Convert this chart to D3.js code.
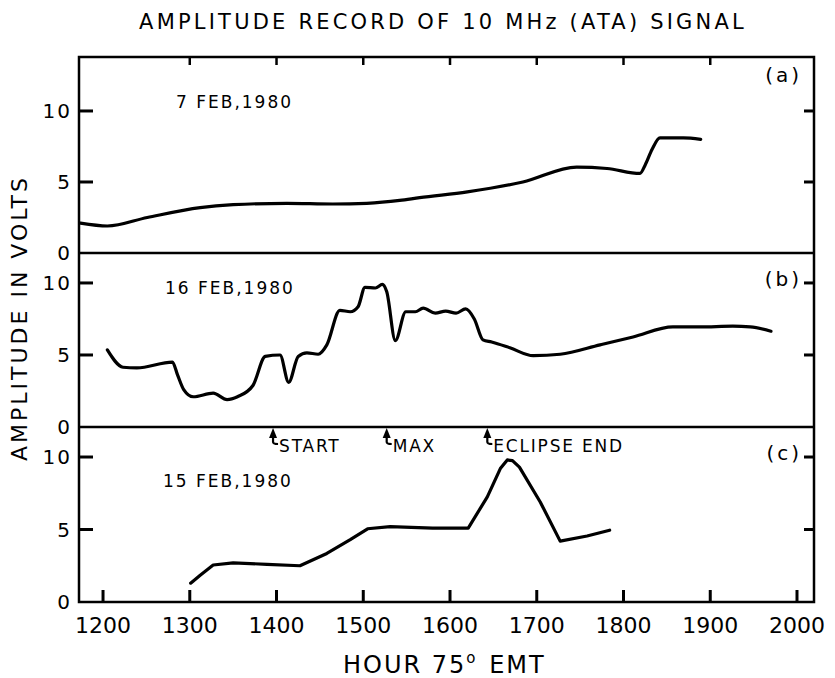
<!DOCTYPE html>
<html><head><meta charset="utf-8">
<script src="https://cdn.jsdelivr.net/npm/d3@7"></script>
<style>
html,body{margin:0;padding:0;background:#fff;}
svg{display:block;}
text{font-family:"DejaVu Sans",sans-serif;fill:#000;}
</style></head>
<body>
<svg id="c" width="835" height="678"></svg>
<script>
// ---- data ----
const title = "AMPLITUDE RECORD OF 10 MHz (ATA) SIGNAL";
const yLabel = "AMPLITUDE IN VOLTS";
const xTickHours = [12, 13, 14, 15, 16, 17, 18, 19, 20];
const xTickLabels = ["1200","1300","1400","1500","1600","1700","1800","1900","2000"];
const topTickHours = [13, 14, 15, 16, 17, 18, 19];
const yTickValues = [0, 5, 10];
const yTickLabels = ["0", "5", "10"];
const panelIds = ["(a)", "(b)", "(c)"];
const panelDates = ["7 FEB,1980", "16 FEB,1980", "15 FEB,1980"];

const febA_hour = [11.74, 12.05, 12.51, 13.12, 13.50, 14.12, 14.65, 15.04, 15.42, 15.65, 16.20, 16.84, 17.46, 17.81, 18.19, 18.25, 18.33, 18.42, 18.69, 18.89];
const febA_volt = [2.1, 1.9, 2.5, 3.2, 3.4, 3.5, 3.45, 3.5, 3.7, 3.9, 4.3, 5.0, 6.05, 5.95, 5.6, 6.2, 7.3, 8.1, 8.1, 8.0];

const febB_hour = [12.05, 12.23, 12.39, 12.80, 12.86, 12.93, 13.04, 13.27, 13.43, 13.55, 13.73, 13.87, 14.04, 14.14, 14.25, 14.35, 14.48, 14.58, 14.73, 14.85, 14.94, 15.02, 15.14, 15.22, 15.27, 15.37, 15.49, 15.60, 15.69, 15.83, 15.95, 16.07, 16.18, 16.28, 16.38, 16.48, 16.69, 16.96, 17.27, 17.73, 18.11, 18.57, 18.88, 19.26, 19.46, 19.70];
const febB_volt = [5.35, 4.15, 4.1, 4.5, 3.6, 2.6, 2.1, 2.35, 1.9, 2.1, 2.9, 4.9, 5.0, 3.1, 4.9, 5.15, 5.05, 5.7, 8.1, 8.0, 8.35, 9.7, 9.65, 9.9, 9.4, 6.0, 8.0, 8.0, 8.25, 7.9, 8.05, 7.9, 8.2, 7.5, 6.05, 5.9, 5.5, 4.95, 5.05, 5.7, 6.25, 6.95, 6.95, 7.0, 6.95, 6.65];

const febC_hour = [13.01, 13.12, 13.27, 13.50, 13.89, 14.27, 14.58, 14.85, 15.05, 15.31, 15.80, 16.21, 16.43, 16.58, 16.66, 16.72, 16.80, 17.04, 17.27, 17.58, 17.84];
const febC_volt = [1.3, 1.85, 2.55, 2.7, 2.6, 2.5, 3.35, 4.3, 5.05, 5.2, 5.1, 5.1, 7.25, 9.2, 9.8, 9.75, 9.3, 6.9, 4.2, 4.55, 4.95];

const eventHours = [13.96, 15.27, 16.43];
const eventLabels = ["START", "MAX", "ECLIPSE END"];

// ---- layout ----
const svg = d3.select("#c");
const x = d3.scaleLinear().domain([11.723, 20.196]).range([79, 814]);
const panels = [
  {hours: febA_hour, volts: febA_volt, curve: d3.curveMonotoneX, y: d3.scaleLinear().domain([0, 13.8]).range([253, 57])},
  {hours: febB_hour, volts: febB_volt, curve: d3.curveMonotoneX, y: d3.scaleLinear().domain([0, 12.08]).range([427, 253])},
  {hours: febC_hour, volts: febC_volt, curve: d3.curveLinear, y: d3.scaleLinear().domain([0, 12.07]).range([602, 427])}
];
const xL = x.range()[0], xR = x.range()[1];
const yTop = panels[0].y.range()[1], yBot = panels[2].y(0);
const ticksG = svg.append("g").attr("class", "ticks");

function tick(ax, ay, bx, by, w) {
  ticksG.append("path").attr("d", `M${ax},${ay}L${bx},${by}`)
    .attr("stroke", "#000").attr("stroke-width", w).attr("fill", "none");
}

// title
svg.append("text").attr("x", 443).attr("y", 29).attr("text-anchor", "middle")
  .attr("font-size", 21).attr("letter-spacing", 3.2).text(title);

// y label
svg.append("text").attr("transform", "translate(27,318) rotate(-90)")
  .attr("text-anchor", "middle").attr("font-size", 22).attr("letter-spacing", 3).text(yLabel);

panels.forEach((p, i) => {
  const y = p.y;
  yTickValues.forEach((v, j) => {
    if (v !== 0) {
      tick(xL, y(v), xL + 14, y(v), 3);
      tick(xR - 10, y(v), xR, y(v), 3);
    }
    svg.append("text").attr("x", xL - 7).attr("y", y(v)).attr("dy", "0.36em")
      .attr("text-anchor", "end").attr("font-size", 20).attr("letter-spacing", 2).text(yTickLabels[j]);
  });
  const line = d3.line().x(d => x(d[0])).y(d => y(d[1])).curve(p.curve);
  svg.append("path").datum(p.hours.map((h, k) => [h, p.volts[k]]))
    .attr("d", line).attr("fill", "none").attr("stroke", "#000")
    .attr("stroke-width", 3.2).attr("stroke-linejoin", "round").attr("stroke-linecap", "round");
  svg.append("text").attr("x", 802).attr("y", i === 0 ? 82 : y(10) + 3).attr("text-anchor", "end")
    .attr("font-size", 20).attr("letter-spacing", 3).text(panelIds[i]);
});

// dates
svg.append("text").attr("x", 176).attr("y", panels[0].y(10.2)).attr("font-size", 17).attr("letter-spacing", 2).text(panelDates[0]);
svg.append("text").attr("x", 165).attr("y", panels[1].y(9.25)).attr("font-size", 17).attr("letter-spacing", 2).text(panelDates[1]);
svg.append("text").attr("x", 163).attr("y", panels[2].y(7.9)).attr("font-size", 17).attr("letter-spacing", 2).text(panelDates[2]);

// bottom ticks + labels
xTickHours.forEach((h, j) => {
  tick(x(h), yBot, x(h), yBot - 12, 3);
  svg.append("text").attr("x", x(h)).attr("y", yBot + 31).attr("text-anchor", "middle")
    .attr("font-size", 22).text(xTickLabels[j]);
});
// top ticks
topTickHours.forEach(h => tick(x(h), yTop, x(h), yTop + 8, 2.5));

// frame
svg.append("rect").attr("x", xL).attr("y", yTop).attr("width", xR - xL).attr("height", yBot - yTop)
  .attr("fill", "none").attr("stroke", "#000").attr("stroke-width", 2.5);
[panels[0].y(0), panels[1].y(0)].forEach(yy => svg.append("line").attr("x1", xL).attr("x2", xR)
  .attr("y1", yy).attr("y2", yy).attr("stroke", "#000").attr("stroke-width", 2.5));

// event arrows
const yBase = panels[1].y(0);
eventHours.forEach((h, i) => {
  const cx = x(h);
  const p = d3.path();
  p.moveTo(cx, yBase + 1); p.lineTo(cx - 4, yBase + 11); p.lineTo(cx + 4, yBase + 11); p.closePath();
  svg.append("path").attr("d", p.toString()).attr("fill", "#000");
  const s = d3.path();
  s.moveTo(cx, yBase + 10); s.lineTo(cx, yBase + 15); s.quadraticCurveTo(cx, yBase + 17, cx + 5, yBase + 17);
  svg.append("path").attr("d", s.toString()).attr("fill", "none").attr("stroke", "#000").attr("stroke-width", 2.2);
  svg.append("text").attr("x", cx + 6).attr("y", yBase + 25).attr("font-size", 17)
    .attr("letter-spacing", 1.8).text(eventLabels[i]);
});

// x label
const xl = svg.append("text").attr("x", 343).attr("y", 673).attr("font-size", 24).attr("letter-spacing", 2);
xl.append("tspan").text("HOUR  75");
xl.append("tspan").attr("dy", -10).attr("font-size", 15).text("o");
xl.append("tspan").attr("dy", 10).attr("dx", 2).text(" EMT");
</script>
</body></html>
